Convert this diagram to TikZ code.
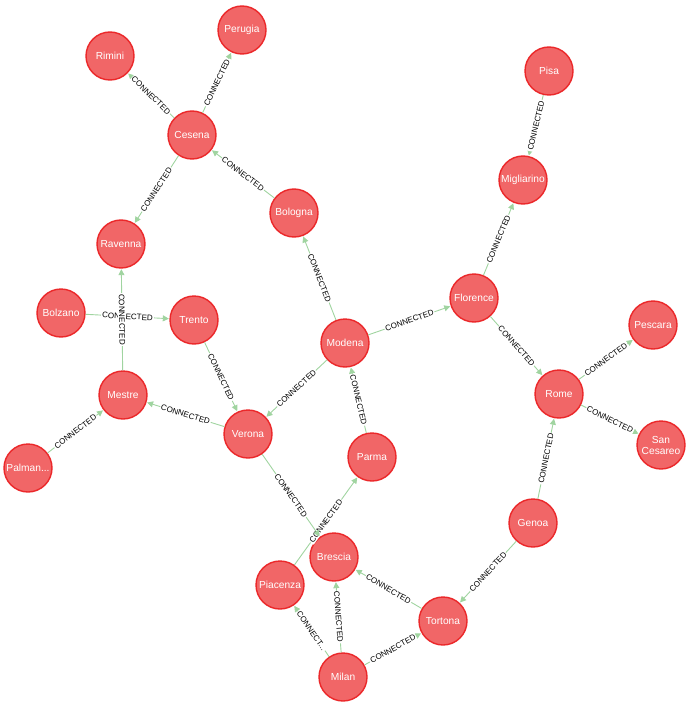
\documentclass[tikz,border=0pt]{standalone}
\usepackage{fontspec}
\setmainfont{Liberation Sans}
\usetikzlibrary{arrows.meta}

\definecolor{nodefill}{RGB}{241,102,103}
\definecolor{nodeline}{RGB}{235,40,42}
\definecolor{edgegreen}{RGB}{160,212,160}

\begin{document}
\begin{tikzpicture}[x=1pt, y=-1pt,
        city/.style={circle, draw=nodeline, line width=1.4pt, fill=nodefill, minimum size=48pt, inner sep=0pt, text=white, font=\fontsize{10.2}{11}\selectfont, align=center},
        conn/.style={draw=edgegreen, line width=0.9pt, -{Triangle[length=6pt, width=6pt]}, shorten >=0.5pt},
        lbl/.style={sloped, midway, fill=white, inner sep=1pt, font=\fontsize{8}{8.5}\selectfont}
      ]
        \useasboundingbox (0,0) rectangle (690,706);
        % cities
        \node[city] (rimini) at (110,56) {Rimini};
        \node[city] (perugia) at (242,30) {Perugia};
        \node[city] (cesena) at (192,135) {Cesena};
        \node[city] (ravenna) at (121,244) {Ravenna};
        \node[city] (bologna) at (294,213) {Bologna};
        \node[city] (pisa) at (549,71) {Pisa};
        \node[city] (migliarino) at (523,180) {Migliarino};
        \node[city] (florence) at (474,298) {Florence};
        \node[city] (pescara) at (653,325) {Pescara};
        \node[city] (rome) at (559,394) {Rome};
        \node[city] (sancesareo) at (661,445) {San\\Cesareo};
        \node[city] (bolzano) at (61,313) {Bolzano};
        \node[city] (trento) at (194,320) {Trento};
        \node[city] (modena) at (345,343) {Modena};
        \node[city] (mestre) at (123,395) {Mestre};
        \node[city] (verona) at (248,434) {Verona};
        \node[city] (parma) at (372,457) {Parma};
        \node[city] (palman) at (28,468) {Palman...};
        \node[city] (genoa) at (533,523) {Genoa};
        \node[city] (brescia) at (334,557) {Brescia};
        \node[city] (piacenza) at (280,585) {Piacenza};
        \node[city] (tortona) at (443,621) {Tortona};
        \node[city] (milan) at (343,677) {Milan};
        % relationships
        \foreach \a/\b in {cesena/rimini, cesena/perugia, cesena/ravenna, bologna/cesena,
            modena/bologna, modena/florence, modena/verona, parma/modena,
            florence/migliarino, pisa/migliarino, florence/rome, rome/pescara,
            rome/sancesareo, genoa/rome, genoa/tortona, tortona/brescia,
            milan/tortona, milan/brescia, piacenza/parma, verona/brescia,
            verona/mestre, trento/verona, bolzano/trento, mestre/ravenna,
            palman/mestre}
          \draw[conn] (\a) -- node[lbl] {CONNECTED} (\b);
        \draw[conn] (milan) -- node[lbl] {CONNECT...} (piacenza);
      \end{tikzpicture}
\end{document}
